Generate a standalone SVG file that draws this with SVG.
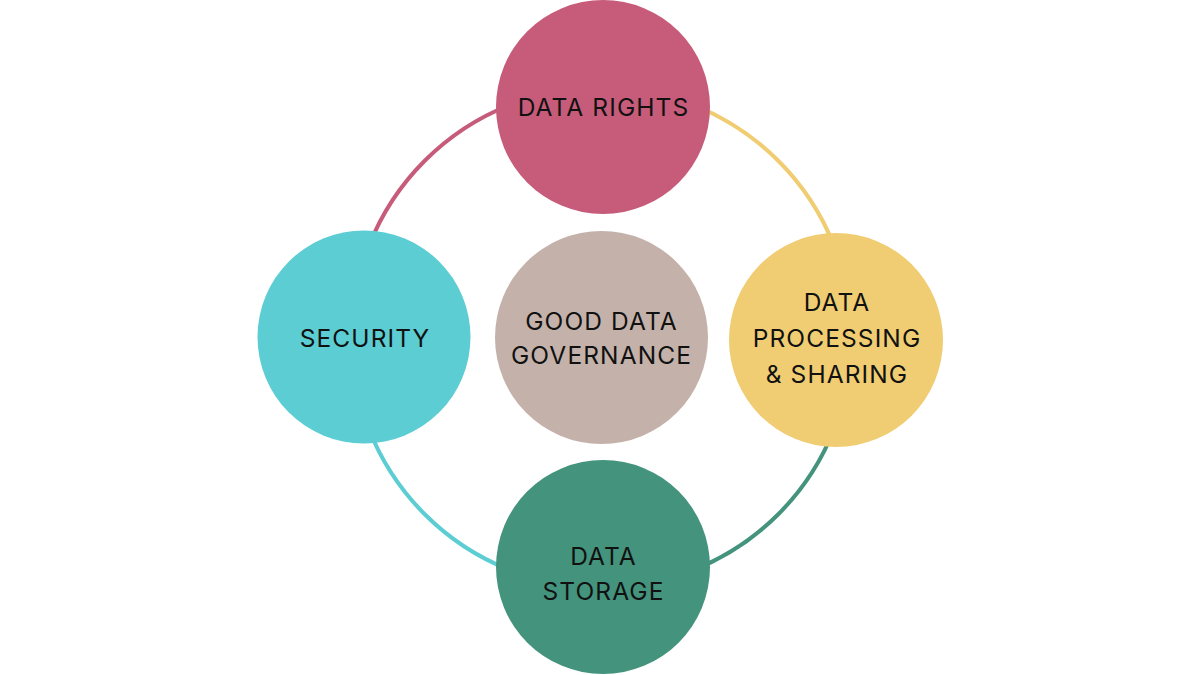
<svg xmlns="http://www.w3.org/2000/svg" width="1200" height="675" viewBox="0 0 1200 675">
<style>
.ring{fill:none;stroke-width:4}
.lbl{font-family:Inter,"Liberation Sans",sans-serif;font-size:24.5px;letter-spacing:1.1px;fill:#111;text-anchor:middle}
</style>
<rect width="1200" height="675" fill="#fff"/>
<g id="connectors">
<path class="ring" stroke="#C75B7A" d="M351.5,337.5 A250,250 0 0 1 601.5,87.5"/>
<path class="ring" stroke="#F0CD72" d="M601.5,87.5 A250,250 0 0 1 851.5,337.5"/>
<path class="ring" stroke="#44937D" d="M851.5,337.5 A250,250 0 0 1 601.5,587.5"/>
<path class="ring" stroke="#5BCDD3" d="M601.5,587.5 A250,250 0 0 1 351.5,337.5"/>
</g>
<g id="data-rights">
<circle cx="603" cy="107" r="107" fill="#C75B7A"/>
<text class="lbl" x="603.5" y="115.5">DATA RIGHTS</text>
</g>
<g id="security">
<circle cx="364" cy="337" r="106.5" fill="#5BCDD3"/>
<text class="lbl" x="365" y="346.5">SECURITY</text>
</g>
<g id="data-processing">
<circle cx="836" cy="340" r="107" fill="#F0CD72"/>
<text class="lbl" x="837" y="310.5">DATA</text>
<text class="lbl" x="837" y="346.5">PROCESSING</text>
<text class="lbl" x="837" y="382.5">&amp; SHARING</text>
</g>
<g id="data-storage">
<circle cx="603" cy="567" r="107" fill="#44937D"/>
<text class="lbl" x="603.5" y="564.5">DATA</text>
<text class="lbl" x="603.5" y="599.5">STORAGE</text>
</g>
<g id="good-data-governance">
<circle cx="601.5" cy="337.5" r="106.5" fill="#C4B2AA"/>
<text class="lbl" x="601.5" y="329.5">GOOD DATA</text>
<text class="lbl" x="601.5" y="363.5">GOVERNANCE</text>
</g>
</svg>
